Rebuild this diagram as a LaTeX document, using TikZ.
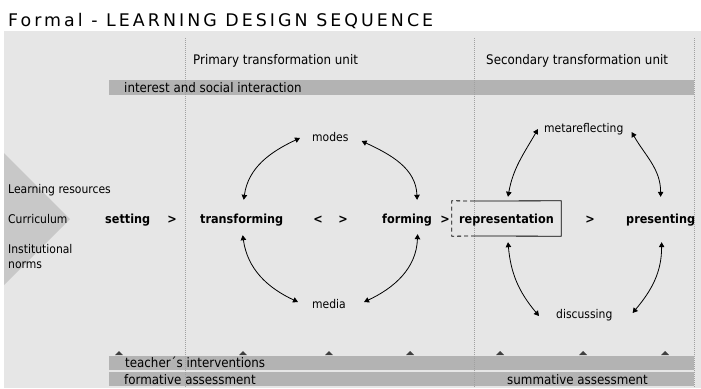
\documentclass[tikz,border=0pt]{standalone}
\usepackage{fontspec}
\setmainfont{DejaVu Sans}[FakeStretch=0.9]
\newfontfamily\titlefont{DejaVu Sans}[LetterSpace=17.5]
\usetikzlibrary{arrows.meta}
\definecolor{bgc}{HTML}{E6E6E6}
\definecolor{bandc}{HTML}{B3B3B3}
\definecolor{tric}{HTML}{C8C8C8}
\definecolor{markc}{HTML}{404040}
\definecolor{dotc}{HTML}{A0A0A0}
\tikzset{
  titletext/.style={font=\titlefont\fontsize{17.4}{20}\selectfont, inner sep=0, anchor=base west},
  hdr/.style={font=\fontsize{13.2}{15}\selectfont, inner sep=0, anchor=base west},
  lbl/.style={font=\fontsize{12}{14}\selectfont, inner sep=0, anchor=base west, text height=9pt, text depth=3pt},
  stage/.style={font=\bfseries\fontsize{12.5}{14}\selectfont, inner sep=0, anchor=base west, text height=9pt, text depth=3pt},
  sym/.style={font=\bfseries\fontsize{12.5}{14}\selectfont, inner sep=0, anchor=base},
  band/.style={fill=bandc, inner sep=0, anchor=north west, minimum width=585pt, minimum height=15pt},
  band2/.style={fill=bandc, inner sep=0, anchor=north west, minimum width=585pt, minimum height=14pt},
  divider/.style={draw=dotc, line width=1pt, dash pattern=on 1pt off 1pt},
  cyc/.style={{Triangle[length=5pt,width=5.5pt]}-{Triangle[length=5pt,width=5.5pt]}, line width=0.8pt, black},
  markerfill/.style={fill=markc},
}
\begin{document}
\begin{tikzpicture}[x=1pt,y=1pt]
\useasboundingbox (0,0) rectangle (701,-388);
\fill[bgc] (4,-31) rectangle (701,-388);
\node[titletext] (title) at (8,-26) {Formal - LEARNING DESIGN SEQUENCE};
% left triangle
\fill[tric] (4,-153) -- (70,-219) -- (4,-285) -- cycle;
% bands
\node[band] (b1) at (109,-80) {};
\node[band2] (b2) at (109,-356) {};
\node[band2] (b3) at (109,-372) {};
% markers
\foreach \x in {119,243,329,410,500,583,665}
  \fill[markerfill] (\x-4,-355) -- (\x,-351) -- (\x+4,-355) -- cycle;
% dividers
\draw[divider] (185,-38) -- (185,-388);
\draw[divider] (474,-38) -- (474,-388);
\draw[divider] (694,-38) -- (694,-388);
% headers
\node[hdr] (h1) at (193,-64) {Primary transformation unit};
\node[hdr] (h2) at (486,-64) {Secondary transformation unit};
\node[hdr] (t1) at (124,-92) {interest and social interaction};
\node[hdr] (t2) at (125,-367.5) {teacher´s interventions};
\node[hdr] (t3) at (124,-384) {formative assessment};
\node[hdr] (t4) at (507,-384) {summative assessment};
% left labels
\node[lbl] (lr) at (8,-193) {Learning resources};
\node[lbl] (cu) at (8,-223) {Curriculum};
\node[lbl] (in1) at (8,-253) {Institutional};
\node[lbl] (in2) at (8,-268) {norms};
% stages
\node[stage] (setting) at (105,-223) {setting};
\node[sym] (g1) at (172,-223) {>};
\node[stage] (transforming) at (200,-223) {transforming};
\node[sym] (l1) at (318,-223) {<};
\node[sym] (g2) at (343,-223) {>};
\node[stage] (forming) at (382,-223) {forming};
\node[sym] (g3) at (445,-223) {>};
\node[font=\bfseries\fontsize{12.5}{14}\selectfont, inner sep=0, minimum width=109pt, minimum height=35pt, text height=11pt, text depth=1pt] (rep) at (506.5,-218.5) {representation};
\node[sym] (g4) at (590,-223) {>};
\node[stage] (presenting) at (626,-223) {presenting};
% rep box
\draw[line width=0.8pt, dash pattern=on 4pt off 3pt] (474,-201) -- (rep.north west) -- (rep.south west) -- (474,-236);
\draw[line width=0.8pt] (474,-201) -- (rep.north east) -- (rep.south east) -- (474,-236);
% cycle labels
\node[lbl] (modes) at (312,-141) {modes};
\node[lbl] (media) at (312,-308) {media};
\node[lbl] (meta) at (544,-132) {metareflecting};
\node[lbl] (disc) at (556,-318) {discussing};
% arcs
\draw[cyc] ([xshift=2pt,yshift=14pt]transforming.north) to[out=82,in=205] ([xshift=-12pt]modes.west);
\draw[cyc] ([xshift=13pt,yshift=-3pt]modes.east) to[out=-25,in=92] ([xshift=10pt,yshift=14pt]forming.north);
\draw[cyc] ([xshift=1pt,yshift=-9pt]transforming.south) to[out=-82,in=155] ([xshift=-14pt,yshift=3pt]media.west);
\draw[cyc] ([xshift=10.5pt,yshift=-8pt]forming.south) to[out=-92,in=25] ([xshift=18pt,yshift=3pt]media.east);
\draw[cyc] ([xshift=1.5pt,yshift=4pt]rep.north) to[out=80,in=240] ([xshift=-6pt]meta.west);
\draw[cyc] ([xshift=8pt,yshift=-3pt]meta.east) to[out=-60,in=90] ([yshift=17pt]presenting.north);
\draw[cyc] ([xshift=1.5pt,yshift=-6pt]rep.south) to[out=-85,in=130] ([xshift=-17pt,yshift=-1pt]disc.west);
\draw[cyc] ([xshift=1pt,yshift=-16pt]presenting.south) to[out=-90,in=50] ([xshift=20pt,yshift=2pt]disc.east);
\end{tikzpicture}
\end{document}
